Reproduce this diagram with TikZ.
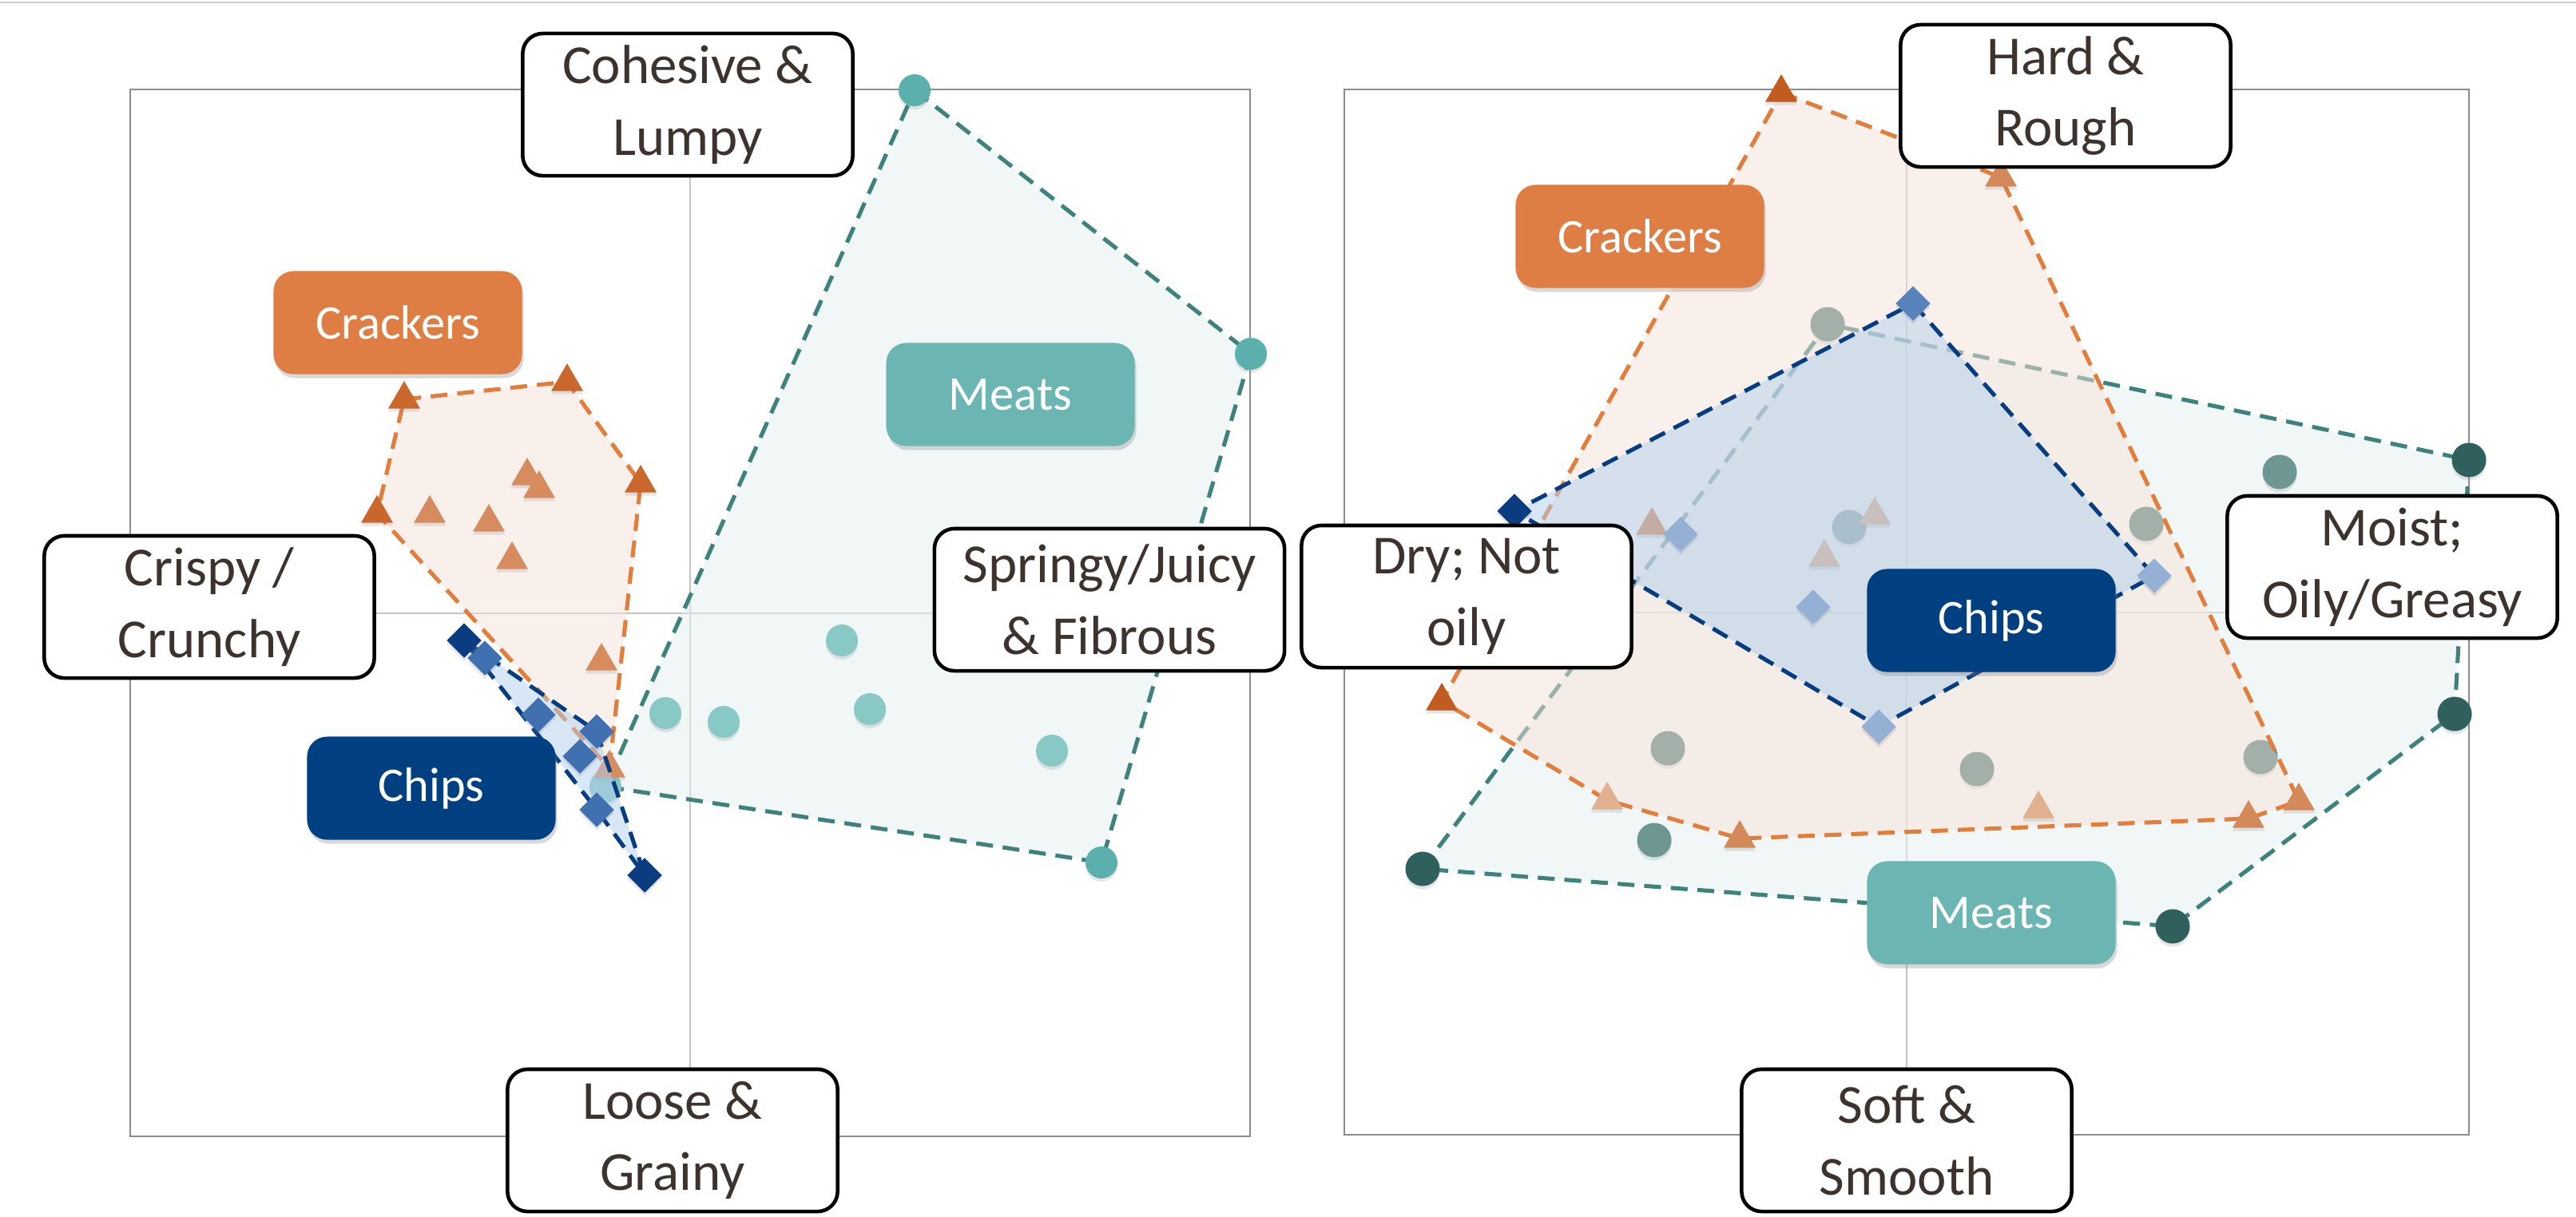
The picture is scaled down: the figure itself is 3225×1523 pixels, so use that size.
\documentclass[tikz,border=0pt]{standalone}
\usepackage{fontspec}
\setmainfont{Carlito}
\usetikzlibrary{shapes.geometric,shadows}

\definecolor{axtext}{HTML}{3C322E}
\definecolor{framegray}{HTML}{8C8C8C}
\definecolor{axisgray}{HTML}{C4C4C4}
\definecolor{topgray}{HTML}{CFCFCF}
\definecolor{crkline}{HTML}{E37D3C}
\definecolor{crkfill}{HTML}{F5E2D8}
\definecolor{chipline}{HTML}{053D80}
\definecolor{chipfill}{HTML}{B2CFEE}
\definecolor{meatline}{HTML}{3E827E}
\definecolor{meatfill}{HTML}{E3EFEF}
\definecolor{crkbox}{HTML}{DE7E44}
\definecolor{chipbox}{HTML}{003F80}
\definecolor{meatbox}{HTML}{6BB5B3}
\definecolor{lmA}{HTML}{5BB0AE}
\definecolor{lmB}{HTML}{88C8C5}
\definecolor{lkA}{HTML}{C9672D}
\definecolor{lkB}{HTML}{D68C5E}
\definecolor{lpA}{HTML}{0B3C80}
\definecolor{lpB}{HTML}{4070B0}
\definecolor{rmA}{HTML}{2F605D}
\definecolor{rmB}{HTML}{6E9693}
\definecolor{rmC}{HTML}{4F7F7B}
\definecolor{rkA}{HTML}{C25B1F}
\definecolor{rkB}{HTML}{D4895A}
\definecolor{rkC}{HTML}{E0B08F}
\definecolor{rpA}{HTML}{0B3C80}
\definecolor{rpB}{HTML}{5882BC}
\definecolor{rpC}{HTML}{94B0D4}

\begin{document}
\begin{tikzpicture}[x=0.01cm,y=-0.01cm,
        axlabel/.style={draw=black,line width=1.3pt,fill=white,rounded corners=0.25cm,
            text=axtext,align=center,minimum width=4.13cm,minimum height=1.78cm,
            font=\fontsize{19.6}{25.5}\selectfont},
        grouplabel/.style={rounded corners=0.25cm,text=white,minimum width=3.11cm,
            minimum height=1.29cm,font=\fontsize{17.2}{20}\selectfont,
            drop shadow={opacity=0.3,shadow xshift=0.02cm,shadow yshift=-0.05cm}},
        mkshadow/.style={drop shadow={opacity=0.2,shadow xshift=0pt,shadow yshift=-0.04cm}},
        tri/.style={regular polygon,regular polygon sides=3,minimum size=0.46cm,inner sep=0pt,mkshadow},
        dia/.style={diamond,minimum width=0.44cm,minimum height=0.44cm,inner sep=0pt,mkshadow},
        meatdot/.style={circle,minimum size=0.4cm,inner sep=0pt,mkshadow},
        hull/.style={line width=1.45pt,dash pattern=on 6pt off 3.5pt},
        crkhull/.style={hull,draw=crkline,fill=crkfill,fill opacity=0.5},
        chiphull/.style={hull,draw=chipline,fill=chipfill,fill opacity=0.5},
        meathull/.style={hull,draw=meatline,fill=meatfill,fill opacity=0.5}]

            \useasboundingbox (0,0) rectangle (3225,1523);

            \draw[topgray,line width=0.6pt] (0,3)--(3225,3);

            %frames
            \draw[framegray,line width=0.8pt] (163,112) rectangle (1565,1423);

            \draw[axisgray,line width=0.6pt] (864,112)--(864,1423);

            \draw[axisgray,line width=0.6pt] (163,768)--(1565,768);

            \draw[framegray,line width=0.8pt] (1683,112) rectangle (3091,1421);

            \draw[axisgray,line width=0.6pt] (2387,112)--(2387,1421);

            \draw[axisgray,line width=0.6pt] (1683,767)--(3091,767);

            %left: meats
            \coordinate (lm1) at (1145,113);
            \coordinate (lm2) at (1566,443);
            \coordinate (lm3) at (1379,1080);
            \coordinate (lm4) at (758,985);
            \coordinate (lm5) at (1054,802);
            \coordinate (lm6) at (1089,888);
            \coordinate (lm7) at (1317,940);
            \coordinate (lm8) at (833,893);
            \coordinate (lm9) at (906,904);

            \draw[meathull] (lm1)--(lm2)--(lm3)--(lm4)--cycle;

            \node[meatdot,fill=lmA] (lm1d) at (lm1) {};
            \node[meatdot,fill=lmA] (lm2d) at (lm2) {};
            \node[meatdot,fill=lmA] (lm3d) at (lm3) {};
            \node[meatdot,fill=lmB] (lm4d) at (lm4) {};
            \node[meatdot,fill=lmB] (lm5d) at (lm5) {};
            \node[meatdot,fill=lmB] (lm6d) at (lm6) {};
            \node[meatdot,fill=lmB] (lm7d) at (lm7) {};
            \node[meatdot,fill=lmB] (lm8d) at (lm8) {};
            \node[meatdot,fill=lmB] (lm9d) at (lm9) {};

            %left: crackers
            \coordinate (lk1) at (506,500);
            \coordinate (lk2) at (710,478);
            \coordinate (lk3) at (472,643);
            \coordinate (lk4) at (538,643);
            \coordinate (lk5) at (612,654);
            \coordinate (lk6) at (660,596);
            \coordinate (lk7) at (675,612);
            \coordinate (lk8) at (641,701);
            \coordinate (lk9) at (802,605);
            \coordinate (lk10) at (753,828);
            \coordinate (lk11) at (763,962);

            \draw[crkhull] (lk1)--(lk2)--(lk9)--(lk11)--(lk3)--cycle;

            \node[tri,fill=lkA] (lk1t) at (lk1) {};
            \node[tri,fill=lkA] (lk2t) at (lk2) {};
            \node[tri,fill=lkA] (lk3t) at (lk3) {};
            \node[tri,fill=lkB] (lk4t) at (lk4) {};
            \node[tri,fill=lkB] (lk5t) at (lk5) {};
            \node[tri,fill=lkB] (lk6t) at (lk6) {};
            \node[tri,fill=lkB] (lk7t) at (lk7) {};
            \node[tri,fill=lkB] (lk8t) at (lk8) {};
            \node[tri,fill=lkA] (lk9t) at (lk9) {};
            \node[tri,fill=lkB] (lk10t) at (lk10) {};
            \node[tri,fill=lkB] (lk11t) at (lk11) {};

            %left: chips
            \coordinate (lp1) at (581,802);
            \coordinate (lp2) at (607,824);
            \coordinate (lp3) at (674,895);
            \coordinate (lp4) at (726,947);
            \coordinate (lp5) at (747,916);
            \coordinate (lp6) at (747,1014);
            \coordinate (lp7) at (807,1096);

            \draw[chiphull] (lp1)--(lp5)--(lp7)--(lp6)--cycle;

            \node[dia,fill=lpA] (lp1d) at (lp1) {};
            \node[dia,fill=lpB] (lp2d) at (lp2) {};
            \node[dia,fill=lpB] (lp3d) at (lp3) {};
            \node[dia,fill=lpB] (lp4d) at (lp4) {};
            \node[dia,fill=lpB] (lp5d) at (lp5) {};
            \node[dia,fill=lpB] (lp6d) at (lp6) {};
            \node[dia,fill=lpA] (lp7d) at (lp7) {};

            %right: meats
            \coordinate (rm1) at (2288,406);
            \coordinate (rm2) at (3091,576);
            \coordinate (rm3) at (2854,591);
            \coordinate (rm4) at (2687,656);
            \coordinate (rm5) at (2315,660);
            \coordinate (rm6) at (3073,894);
            \coordinate (rm7) at (2088,937);
            \coordinate (rm8) at (2071,1052);
            \coordinate (rm9) at (1781,1088);
            \coordinate (rm10) at (2475,963);
            \coordinate (rm11) at (2830,948);
            \coordinate (rm12) at (2720,1160);

            \draw[meathull] (rm9)--(rm1)--(rm2)--(rm6)--(rm12)--cycle;

            \node[meatdot,fill=rmC,minimum size=0.43cm] (rm1d) at (rm1) {};
            \node[meatdot,fill=rmA,minimum size=0.43cm] (rm2d) at (rm2) {};
            \node[meatdot,fill=rmB,minimum size=0.43cm] (rm3d) at (rm3) {};
            \node[meatdot,fill=rmC,minimum size=0.43cm] (rm4d) at (rm4) {};
            \node[meatdot,fill=rmC,minimum size=0.43cm] (rm5d) at (rm5) {};
            \node[meatdot,fill=rmA,minimum size=0.43cm] (rm6d) at (rm6) {};
            \node[meatdot,fill=rmC,minimum size=0.43cm] (rm7d) at (rm7) {};
            \node[meatdot,fill=rmB,minimum size=0.43cm] (rm8d) at (rm8) {};
            \node[meatdot,fill=rmA,minimum size=0.43cm] (rm9d) at (rm9) {};
            \node[meatdot,fill=rmC,minimum size=0.43cm] (rm10d) at (rm10) {};
            \node[meatdot,fill=rmC,minimum size=0.43cm] (rm11d) at (rm11) {};
            \node[meatdot,fill=rmA,minimum size=0.43cm] (rm12d) at (rm12) {};

            %right: crackers
            \coordinate (rk1) at (2230,116);
            \coordinate (rk2) at (2505,222);
            \coordinate (rk3) at (1805,878);
            \coordinate (rk4) at (2012,1002);
            \coordinate (rk5) at (2178,1050);
            \coordinate (rk6) at (2552,1013);
            \coordinate (rk7) at (2815,1025);
            \coordinate (rk8) at (2878,1003);
            \coordinate (rk9) at (2068,658);
            \coordinate (rk10) at (2284,698);
            \coordinate (rk11) at (2347,645);

            \draw[crkhull] (rk1)--(rk2)--(rk8)--(rk7)--(rk5)--(rk4)--(rk3)--cycle;

            \node[tri,fill=rkA] (rk1t) at (rk1) {};
            \node[tri,fill=rkB] (rk2t) at (rk2) {};
            \node[tri,fill=rkA] (rk3t) at (rk3) {};
            \node[tri,fill=rkC] (rk4t) at (rk4) {};
            \node[tri,fill=rkB] (rk5t) at (rk5) {};
            \node[tri,fill=rkC] (rk6t) at (rk6) {};
            \node[tri,fill=rkB] (rk7t) at (rk7) {};
            \node[tri,fill=rkB] (rk8t) at (rk8) {};
            \node[tri,fill=rkB] (rk9t) at (rk9) {};
            \node[tri,fill=rkC] (rk10t) at (rk10) {};
            \node[tri,fill=rkC] (rk11t) at (rk11) {};

            %right: chips
            \coordinate (rp1) at (2395,380);
            \coordinate (rp2) at (2697,721);
            \coordinate (rp3) at (2352,910);
            \coordinate (rp4) at (1896,640);
            \coordinate (rp5) at (2104,669);
            \coordinate (rp6) at (2270,760);

            \draw[chiphull] (rp1)--(rp2)--(rp3)--(rp4)--cycle;

            \node[dia,fill=rpB] (rp1d) at (rp1) {};
            \node[dia,fill=rpC] (rp2d) at (rp2) {};
            \node[dia,fill=rpC] (rp3d) at (rp3) {};
            \node[dia,fill=rpA] (rp4d) at (rp4) {};
            \node[dia,fill=rpC] (rp5d) at (rp5) {};
            \node[dia,fill=rpC] (rp6d) at (rp6) {};

            %group labels
            \node[grouplabel,fill=crkbox] (crkL) at (498,404) {Crackers};

            \node[grouplabel,fill=meatbox] (meatL) at (1265,494) {Meats};

            \node[grouplabel,fill=chipbox] (chipL) at (540,987) {Chips};

            \node[grouplabel,fill=crkbox] (crkR) at (2053,296) {Crackers};

            \node[grouplabel,fill=chipbox] (chipR) at (2493,777) {Chips};

            \node[grouplabel,fill=meatbox] (meatR) at (2493,1143) {Meats};

            %axis labels
            \node[axlabel] (cohesive) at (861,131) {Cohesive \&\\Lumpy};

            \node[axlabel] (crispy) at (262,760) {Crispy /\\Crunchy};

            \node[axlabel,minimum width=4.38cm] (springy) at (1389,751) {Springy/Juicy\\\& Fibrous};

            \node[axlabel] (loose) at (842,1428) {Loose \&\\Grainy};

            \node[axlabel] (hard) at (2586,120) {Hard \&\\Rough};

            \node[axlabel] (dry) at (1836,747) {Dry; Not\\oily};

            \node[axlabel] (moist) at (2995,710) {Moist;\\Oily/Greasy};

            \node[axlabel] (soft) at (2387,1428) {Soft \&\\Smooth};
        \end{tikzpicture}
\end{document}
